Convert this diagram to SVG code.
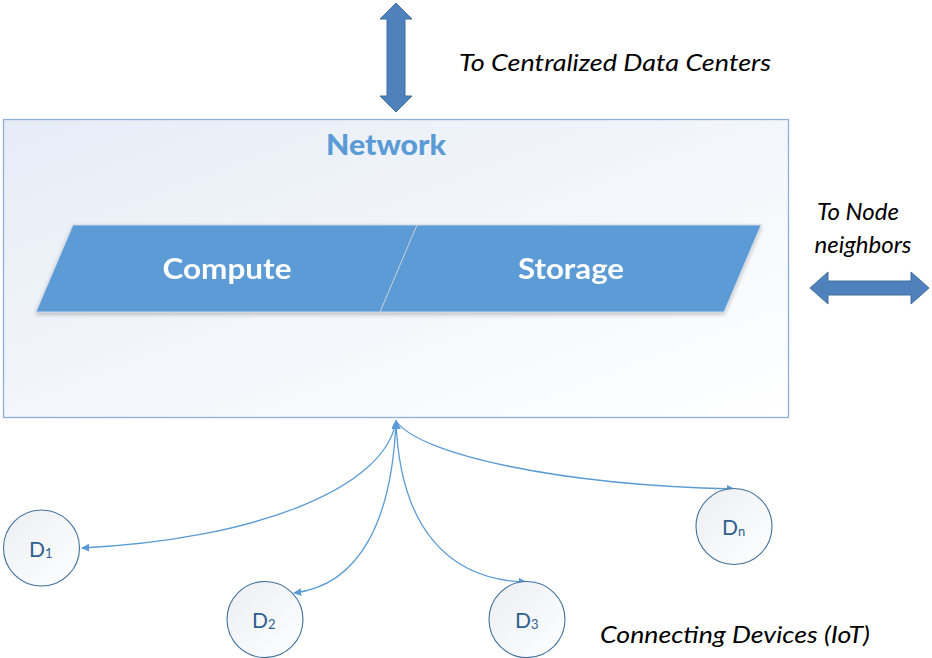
<svg xmlns="http://www.w3.org/2000/svg" width="932" height="658" viewBox="0 0 932 658">
<style>
.lbl{font-family:Lato,"Open Sans",sans-serif;font-style:italic;font-size:24px;fill:#000}
.blk{font-family:Lato,"Open Sans",sans-serif;font-weight:bold;fill:#fff;font-size:29px}
.dev{font-family:Lato,"Open Sans",sans-serif;font-size:21px;fill:#2f5f8f}
.sub{font-size:13px}
.conn{fill:none;stroke:#5b9bd5;stroke-width:1.3}
.dc{fill:url(#cg);stroke:#41719c;stroke-width:1.1}
.barrow{fill:#4f81bd;stroke:#41719c;stroke-width:1}
</style>
<defs>
<linearGradient id="ng" x1="0" y1="0" x2="1" y2="1">
<stop offset="0" stop-color="#e6ecf6"/>
<stop offset="1" stop-color="#ffffff"/>
</linearGradient>
<linearGradient id="cg" x1="0" y1="0" x2="1" y2="1">
<stop offset="0" stop-color="#eceef2"/>
<stop offset="1" stop-color="#ffffff"/>
</linearGradient>
<marker id="ah" viewBox="0 0 10 10" refX="9" refY="5" markerWidth="8" markerHeight="8" markerUnits="userSpaceOnUse" orient="auto">
<path d="M0,0 L10,5 L0,10 Z" fill="#5b9bd5"/>
</marker>
<marker id="ahup" viewBox="0 0 10 10" refX="5" refY="1" markerWidth="9" markerHeight="9" markerUnits="userSpaceOnUse" orient="0">
<path d="M5,0 L10,10 L0,10 Z" fill="#5b9bd5"/>
</marker>
<filter id="sh" x="-5%" y="-10%" width="110%" height="130%">
<feGaussianBlur in="SourceAlpha" stdDeviation="2"/>
<feOffset dy="2"/>
<feComponentTransfer><feFuncA type="linear" slope="0.25"/></feComponentTransfer>
<feMerge><feMergeNode/><feMergeNode in="SourceGraphic"/></feMerge>
</filter>
</defs>
<g id="network">
<rect x="3.5" y="119.5" width="785" height="298" fill="url(#ng)" stroke="#8eaedb" stroke-width="1.3"/>
<text x="386" y="155" text-anchor="middle" font-family="Lato,'Open Sans',sans-serif" font-weight="900" font-size="28" fill="#5b9bd5" textLength="120" lengthAdjust="spacingAndGlyphs">Network</text>
</g>
<g id="compute-storage" filter="url(#sh)">
<path d="M73,225 L761,225 L724,312 L36,312 Z" fill="#5b9bd5" stroke="#c8d5e6" stroke-width="1"/>
<line x1="417" y1="225" x2="380" y2="312" stroke="#c9d2dc" stroke-width="1"/>
<text class="blk" x="227" y="279" text-anchor="middle" textLength="129" lengthAdjust="spacingAndGlyphs">Compute</text>
<text class="blk" x="571" y="279" text-anchor="middle" textLength="106" lengthAdjust="spacingAndGlyphs">Storage</text>
</g>
<g id="arrow-datacenters">
<path class="barrow" d="M396,3 L412,19 L405,19 L405,96 L412,96 L396,112 L380,96 L387,96 L387,19 L380,19 Z"/>
<text class="lbl" x="459" y="71" textLength="312" lengthAdjust="spacingAndGlyphs">To Centralized Data Centers</text>
</g>
<g id="arrow-neighbors">
<path class="barrow" d="M810,288 L828,272 L828,281 L911,281 L911,272 L929,288 L911,304 L911,295 L828,295 L828,304 Z"/>
<text class="lbl" x="858" y="220" text-anchor="middle">To Node</text>
<text class="lbl" x="863" y="253" text-anchor="middle">neighbors</text>
</g>
<g id="connectors">
<path class="conn" d="M396,421 C385,490 250,540 82,548" marker-start="url(#ahup)" marker-end="url(#ah)"/>
<path class="conn" d="M396,421 C392,520 360,585 294,593" marker-start="url(#ahup)" marker-end="url(#ah)"/>
<path class="conn" d="M396,421 C400,530 450,580 526,582" marker-start="url(#ahup)" marker-end="url(#ah)"/>
<path class="conn" d="M396,421 C420,455 560,485 734,489" marker-start="url(#ahup)" marker-end="url(#ah)"/>
</g>
<g id="d1">
<circle class="dc" cx="41.5" cy="548" r="38"/>
<text class="dev" x="29" y="557">D<tspan class="sub" dy="1">1</tspan></text>
</g>
<g id="d2">
<circle class="dc" cx="265" cy="619.5" r="38"/>
<text class="dev" x="252" y="628">D<tspan class="sub" dy="1">2</tspan></text>
</g>
<g id="d3">
<circle class="dc" cx="527" cy="619.5" r="38"/>
<text class="dev" x="515" y="628">D<tspan class="sub" dy="1">3</tspan></text>
</g>
<g id="dn">
<circle class="dc" cx="734" cy="526.5" r="38"/>
<text class="dev" x="722" y="535">D<tspan class="sub" dy="1">n</tspan></text>
</g>
<text class="lbl" x="600" y="643" textLength="270" lengthAdjust="spacingAndGlyphs">Connecting Devices (IoT)</text>
</svg>
